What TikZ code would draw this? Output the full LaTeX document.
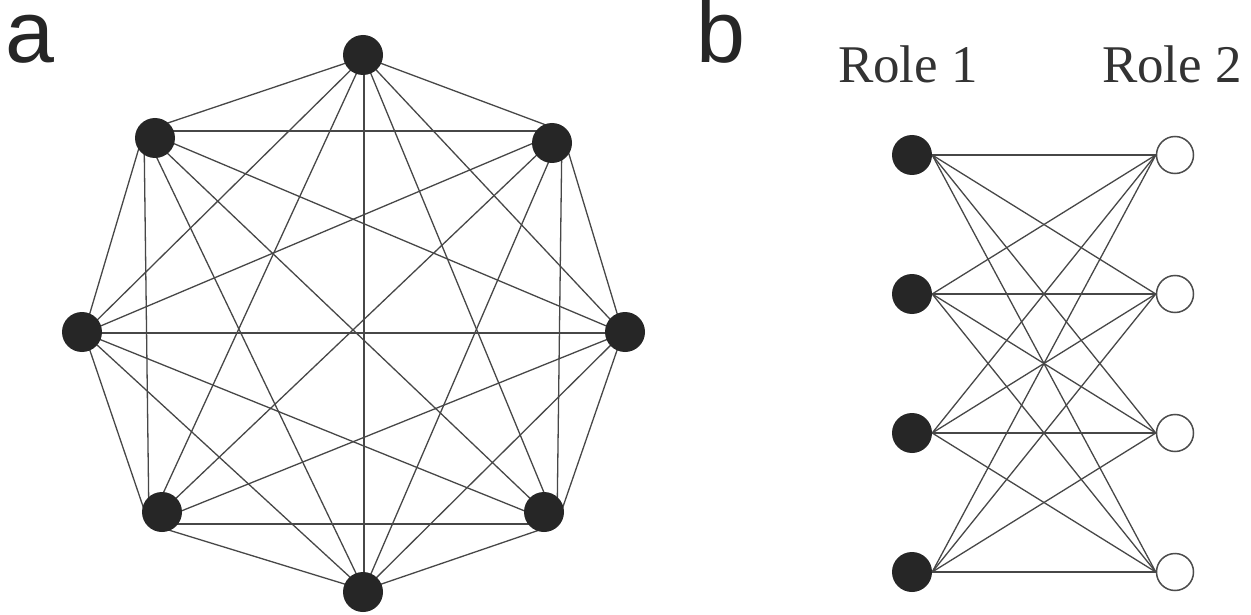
\documentclass[tikz,border=0pt]{standalone}
\usepackage{fontspec}
\setmainfont{Liberation Serif}
\newfontfamily\labfont{Liberation Sans}
\begin{document}
\begin{tikzpicture}[x=1pt,y=-1pt,
  dot/.style={circle,fill=black!85,draw=none,minimum size=40pt,inner sep=0pt},
  hollow/.style={circle,fill=white,draw=black!70,line width=1.5pt,minimum size=37pt,inner sep=0pt},
  edge/.style={draw=black!72,line width=1.3pt},
  panel/.style={font=\labfont\fontsize{88}{90}\selectfont,text=black!85,inner sep=0pt,
    text height=61pt,text depth=0pt,anchor=base west},
  role/.style={font=\fontsize{53}{60}\selectfont,text=black!80,inner sep=0pt,anchor=base}]
\fill[white] (0,0) rectangle (1251,615);
\useasboundingbox (0,0) rectangle (1251,615);

% panel labels
\node[panel] (la) at (5,63) {a};
\node[panel] (lb) at (696,63) {b};
\node[role] (r1lab) at (908,83) {Role 1};
\node[role] (r2lab) at (1172,83) {Role 2};

% ---- panel a: complete graph on 8 nodes ----
\coordinate (h1) at (364,57);
\coordinate (h2) at (562,131);
\coordinate (h3) at (623,333);
\coordinate (h4) at (557,524);
\coordinate (h5) at (364,590);
\coordinate (h6) at (149,524);
\coordinate (h7) at (84,333);
\coordinate (h8) at (144,131);
\foreach \i in {1,...,8}{
  \foreach \j in {1,...,8}{
    \ifnum\i<\j \draw[edge] (h\i) -- (h\j); \fi
  }
}
\node[dot] (n1) at (363,55) {};
\node[dot] (n2) at (552,143) {};
\node[dot] (n3) at (625,332) {};
\node[dot] (n4) at (544,512) {};
\node[dot] (n5) at (363,592) {};
\node[dot] (n6) at (162,512) {};
\node[dot] (n7) at (82,332) {};
\node[dot] (n8) at (155,138) {};

% ---- panel b: complete bipartite graph K4,4 ----
\foreach \k/\y in {1/155,2/294,3/433,4/572}{
  \node[dot] (l\k) at (912,\y) {};
  \node[hollow] (r\k) at (1175,\y) {};
}
\foreach \i in {1,...,4}{
  \foreach \j in {1,...,4}{
    \draw[edge] (l\i.east) -- (r\j.west);
  }
}
\end{tikzpicture}
\end{document}
